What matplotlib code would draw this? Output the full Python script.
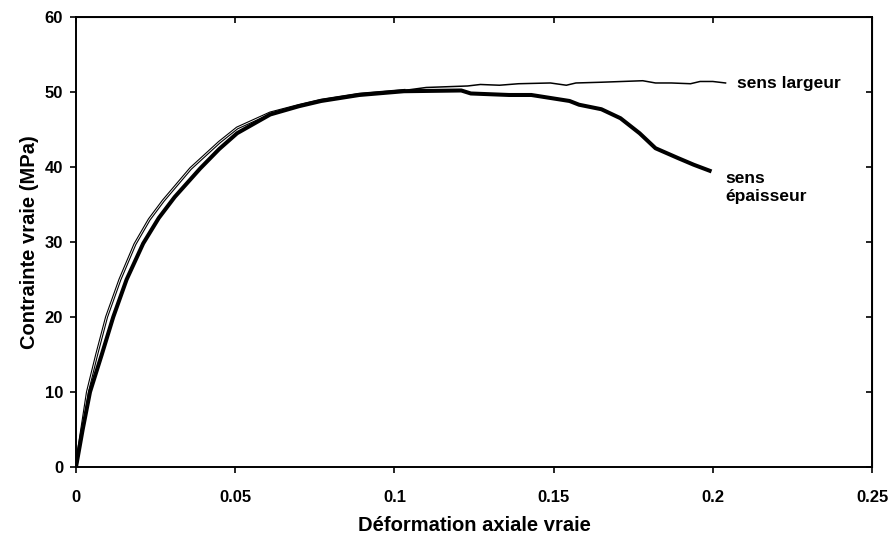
import numpy as np
import matplotlib.pyplot as plt

plt.rcParams['font.family'] = ['Liberation Sans', 'DejaVu Sans']
plt.rcParams['font.weight'] = 'bold'

# sens largeur (thin curve)
eps_larg = [0.0, 0.0018, 0.0036, 0.0065, 0.0096, 0.0138, 0.0185, 0.0230, 0.0274,
            0.036, 0.045, 0.0506, 0.061, 0.070, 0.077, 0.089, 0.103, 0.110, 0.123,
            0.127, 0.133, 0.139, 0.149, 0.154, 0.157, 0.165, 0.178, 0.182,
            0.187, 0.193, 0.196, 0.200, 0.204]
sig_larg = [0.0, 5.0, 10.0, 15.0, 20.0, 25.0, 29.7, 33.0, 35.5,
            39.8, 43.3, 45.2, 47.2, 48.2, 48.9, 49.7, 50.2, 50.6, 50.8,
            51.0, 50.9, 51.1, 51.2, 50.9, 51.2, 51.3, 51.5, 51.2,
            51.2, 51.1, 51.4, 51.4, 51.2]

# sens epaisseur (thick curve)
eps_ep = [0.0, 0.0021, 0.0044, 0.0081, 0.0117, 0.0159, 0.0211, 0.026, 0.031,
          0.039, 0.045, 0.0506, 0.061, 0.070, 0.077, 0.089, 0.103, 0.121, 0.124,
          0.136, 0.143, 0.149, 0.155, 0.158, 0.165, 0.171, 0.177, 0.182, 0.189,
          0.194, 0.199]
sig_ep = [0.0, 5.0, 10.0, 15.0, 20.0, 25.0, 29.8, 33.2, 36.0,
          39.8, 42.4, 44.5, 47.0, 48.1, 48.8, 49.6, 50.1, 50.2, 49.8,
          49.6, 49.6, 49.2, 48.8, 48.3, 47.7, 46.5, 44.5, 42.5, 41.2,
          40.3, 39.5]

x_ticks = [0, 0.05, 0.1, 0.15, 0.2, 0.25]
x_labels = ['0', '0.05', '0.1', '0.15', '0.2', '0.25']
y_ticks = [0, 10, 20, 30, 40, 50, 60]

fig = plt.figure(figsize=(8.92, 5.39), dpi=100)
ax = fig.add_axes([0.0852, 0.1336, 0.8924, 0.8349])

# thin curve: hollow while rising, plain thin line on the plateau
n_split = 17
ax.plot(eps_larg[:n_split], sig_larg[:n_split], color='black', lw=2.2,
        solid_joinstyle='round')
ax.plot(eps_larg[:n_split], sig_larg[:n_split], color='white', lw=0.6)
ax.plot(eps_larg[n_split - 1:], sig_larg[n_split - 1:], color='black', lw=1.1)
ax.plot(eps_ep, sig_ep, color='black', lw=2.9)

ax.set_xlim(0, 0.25)
ax.set_ylim(0, 60)
ax.set_xticks(x_ticks)
ax.set_xticklabels(x_labels)
ax.set_yticks(y_ticks)
ax.tick_params(direction='out', length=4.3, width=1.2, labelsize=12)
ax.tick_params(axis='x', pad=12)
ax.tick_params(axis='y', pad=5)
for s in ax.spines.values():
    s.set_linewidth(1.4)

top = ax.secondary_xaxis('top')
top.set_xticks(x_ticks)
top.tick_params(direction='in', length=4, width=1.2, labeltop=False)
right = ax.secondary_yaxis('right')
right.set_yticks(y_ticks)
right.tick_params(direction='in', length=4, width=1.2, labelright=False)

ax.set_xlabel('Déformation axiale vraie', fontsize=14.5, fontweight='bold', labelpad=8)
ax.set_ylabel('Contrainte vraie (MPa)', fontsize=14.5, fontweight='bold', labelpad=4)

ax.text(0.2076, 51.1, 'sens largeur', fontsize=12.5, fontweight='bold', va='center')
ax.text(0.2038, 37.3, 'sens\népaisseur', fontsize=12.5, fontweight='bold', va='center',
        linespacing=1.25)

fig.savefig('out.png', dpi=100)
